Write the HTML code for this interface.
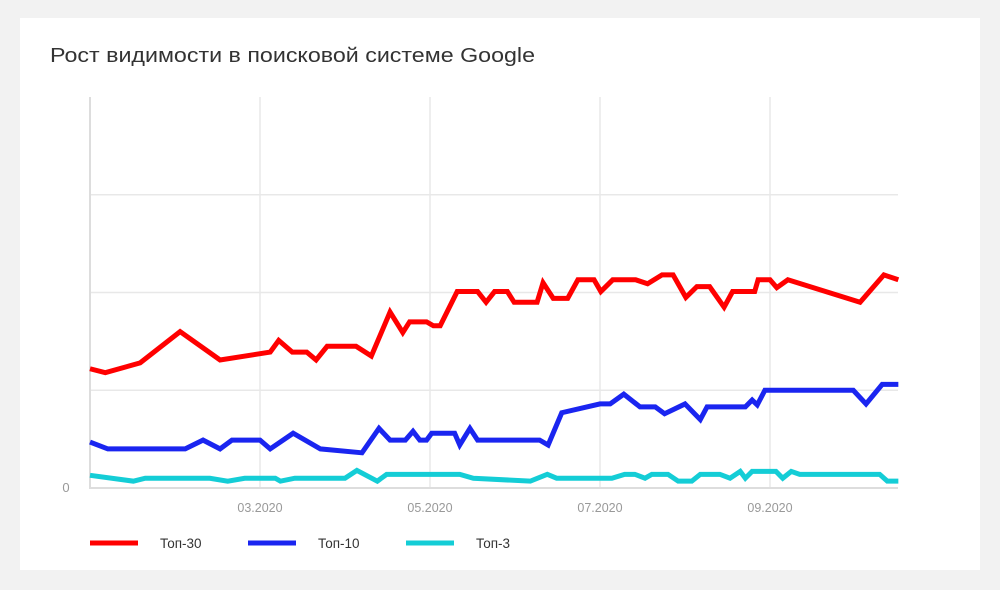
<!DOCTYPE html>
<html><head><meta charset="utf-8"><style>
body{margin:0;width:1000px;height:590px;background:#f2f2f2;font-family:"Liberation Sans",sans-serif;}
#card{position:absolute;left:20px;top:18px;width:960px;height:552px;background:#fff;}
</style></head><body>
<div id="card"></div>
<svg id="chart" width="1000" height="590" style="position:absolute;left:0;top:0">
<text x="50" y="62" font-size="20" fill="#333" textLength="485" lengthAdjust="spacingAndGlyphs">Рост видимости в поисковой системе Google</text>
<g id="grid"></g><g id="series"></g><g id="legend"></g>
</svg>
<script>
const monthTicks=[2,4,6,8];
const monthLabels=["03.2020","05.2020","07.2020","09.2020"];
const yTicks=[0,10,20,30];
const redX=[0,0.18,0.59,1.06,1.53,2.12,2.22,2.38,2.55,2.66,2.79,3.13,3.31,3.53,3.68,3.76,3.96,4.04,4.12,4.32,4.56,4.66,4.76,4.91,4.99,5.26,5.33,5.45,5.62,5.74,5.93,6.01,6.15,6.42,6.56,6.73,6.86,7.01,7.14,7.29,7.46,7.56,7.82,7.86,8.0,8.08,8.21,9.06,9.34,9.51];
const redY=[12.2,11.8,12.8,16.0,13.1,13.9,15.1,13.9,13.9,13.1,14.5,14.5,13.5,18.0,15.9,17.0,17.0,16.6,16.6,20.1,20.1,19.0,20.1,20.1,19.0,19.0,21.0,19.4,19.4,21.3,21.3,20.1,21.3,21.3,20.9,21.8,21.8,19.5,20.6,20.6,18.5,20.1,20.1,21.3,21.3,20.5,21.3,19.0,21.8,21.3];
const blueX=[0,0.21,1.12,1.33,1.53,1.67,2.0,2.12,2.39,2.71,3.2,3.4,3.53,3.71,3.80,3.88,3.96,4.02,4.29,4.35,4.47,4.56,5.29,5.39,5.55,6.0,6.12,6.28,6.47,6.65,6.76,7.0,7.18,7.26,7.71,7.79,7.85,7.94,8.98,9.13,9.32,9.51];
const blueY=[4.7,4.0,4.0,4.9,4.0,4.9,4.9,4.0,5.6,4.0,3.6,6.1,4.9,4.9,5.8,4.9,4.9,5.6,5.6,4.4,6.1,4.9,4.9,4.4,7.7,8.6,8.6,9.6,8.3,8.3,7.6,8.6,7.0,8.3,8.3,9.0,8.5,10.0,10.0,8.6,10.6,10.6];
const cyanX=[0,0.51,0.65,1.41,1.62,1.82,2.18,2.24,2.41,3.0,3.14,3.38,3.49,4.35,4.51,5.18,5.38,5.49,6.14,6.29,6.41,6.53,6.61,6.80,6.92,7.08,7.18,7.41,7.53,7.65,7.71,7.79,8.07,8.15,8.25,8.35,9.29,9.38,9.51];
const cyanY=[1.3,0.7,1.0,1.0,0.7,1.0,1.0,0.7,1.0,1.0,1.8,0.7,1.4,1.4,1.0,0.7,1.4,1.0,1.0,1.4,1.4,1.0,1.4,1.4,0.7,0.7,1.4,1.4,1.0,1.7,1.0,1.7,1.7,1.0,1.7,1.4,1.4,0.7,0.7];
const NS="http://www.w3.org/2000/svg";
const X0=90,X1=898,Y0=488,Y1=97,XMAX=9.506,YMAX=40;
const sx=m=>X0+(X1-X0)*m/XMAX, sy=v=>Y0-(Y0-Y1)*v/YMAX;
function mk(tag,attrs,parent){const e=document.createElementNS(NS,tag);for(const k in attrs)e.setAttribute(k,attrs[k]);parent.appendChild(e);return e;}
const grid=document.getElementById('grid');
yTicks.forEach(v=>{if(v===0)return;const l=mk('line',{x1:X0,x2:X1,y1:sy(v),y2:sy(v),stroke:'#e8e8e8','stroke-width':1.5},grid);

});
monthTicks.forEach((m,i)=>{const l=mk('line',{x1:sx(m),x2:sx(m),y1:Y1,y2:Y0,stroke:'#e8e8e8','stroke-width':1.5},grid);


const t=mk('text',{x:sx(m),y:512,'text-anchor':'middle','font-size':12.5,fill:'#999'},grid);t.textContent=monthLabels[i];

});
const ax=mk('path',{d:`M${X0},${Y1}V${Y0}H${X1}`,fill:'none',stroke:'#ddd','stroke-width':2},grid);


const z=mk('text',{x:66,y:492,'text-anchor':'middle','font-size':13,fill:'#999'},grid);z.textContent='0';


const ser=document.getElementById('series');
[[redX,redY,'#ff0000','top30-line'],[blueX,blueY,'#1a25f0','top10-line'],[cyanX,cyanY,'#14cdd6','top3-line']].forEach(([xs,ys,c,n])=>{
const p=mk('polyline',{points:xs.map((m,i)=>sx(m)+','+sy(ys[i])).join(' '),fill:'none',stroke:c,'stroke-width':5,'stroke-linejoin':'miter'},ser);

});
const lg=document.getElementById('legend');
[['Топ-30','#ff0000',90,'legend-top30'],['Топ-10','#1a25f0',248,'legend-top10'],['Топ-3','#14cdd6',406,'legend-top3']].forEach(([t,c,x,n])=>{
const g=mk('g',{},lg);


mk('line',{x1:x,x2:x+48,y1:543,y2:543,stroke:c,'stroke-width':5},g);
const tx=mk('text',{x:x+70,y:548,'font-size':13.5,fill:'#333'},g);tx.textContent=t;});
</script>
</body></html>
